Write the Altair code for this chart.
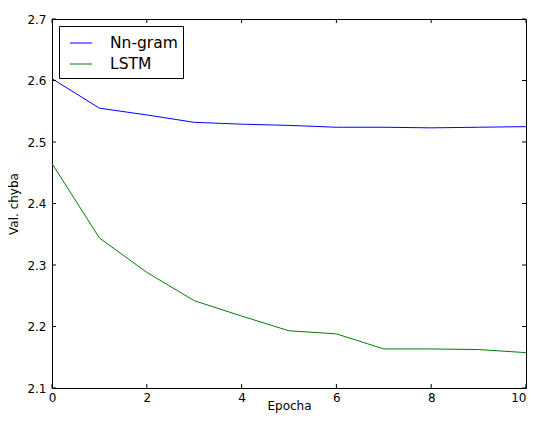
import altair as alt
import pandas as pd

epochs = list(range(11))
ngram = [2.603, 2.555, 2.544, 2.532, 2.529, 2.527, 2.524, 2.524, 2.523, 2.524, 2.525]
lstm = [2.465, 2.344, 2.288, 2.242, 2.217, 2.193, 2.188, 2.1635, 2.1635, 2.1625, 2.1575]
series = ["Nn-gram", "LSTM"]
colors = ["#0000ff", "#008000"]
x_ticks = [0, 2, 4, 6, 8, 10]
y_ticks = [2.1, 2.2, 2.3, 2.4, 2.5, 2.6, 2.7]

W, H = 474, 369
TL = 4

rows = []
for e, a, b in zip(epochs, ngram, lstm):
    rows.append({"epoch": e, "value": a, "series": series[0]})
    rows.append({"epoch": e, "value": b, "series": series[1]})
df = pd.DataFrame(rows)

xs = alt.Scale(domain=[0, 10], nice=False, zero=False)
ys = alt.Scale(domain=[2.1, 2.7], nice=False, zero=False)

lines = alt.Chart(df).mark_line(strokeWidth=1).encode(
    x=alt.X("epoch:Q", scale=xs, title="Epocha",
            axis=alt.Axis(values=x_ticks, format="d", labelPadding=4,
                          labelAlign={"condition": {"test": "datum.value == 10", "value": "right"},
                                      "value": "center"},
                          titleY=24, titleBaseline="bottom")),
    y=alt.Y("value:Q", scale=ys, title="Val. chyba",
            axis=alt.Axis(values=y_ticks, format=".1f", labelPadding=6, titlePadding=6)),
    color=alt.Color("series:N", scale=alt.Scale(domain=series, range=colors),
                    sort=series,
                    legend=alt.Legend(title=None, orient="top-left", offset=7,
                                      symbolType="stroke", symbolSize=500,
                                      symbolStrokeWidth=1, symbolOffset=5,
                                      labelFontSize=15.5,
                                      labelOffset=17, padding=5, rowPadding=-1,
                                      strokeColor="black", fillColor="white",
                                      labelFont="DejaVu Sans", labelColor="black")),
)

xt = pd.DataFrame({"t": x_ticks})
yt = pd.DataFrame({"t": y_ticks})

xb = alt.Chart(xt).mark_rule(color="black", strokeWidth=1).encode(
    x=alt.X("t:Q", scale=xs), y=alt.value(H), y2=alt.value(H - TL))
xtop = alt.Chart(xt).mark_rule(color="black", strokeWidth=1).encode(
    x=alt.X("t:Q", scale=xs), y=alt.value(0), y2=alt.value(TL))
yl = alt.Chart(yt).mark_rule(color="black", strokeWidth=1).encode(
    y=alt.Y("t:Q", scale=ys), x=alt.value(0), x2=alt.value(TL))
yr = alt.Chart(yt).mark_rule(color="black", strokeWidth=1).encode(
    y=alt.Y("t:Q", scale=ys), x=alt.value(W), x2=alt.value(W - TL))

chart = alt.layer(lines, xb, xtop, yl, yr).properties(
    width=W, height=H,
    autosize=alt.AutoSizeParams(type="none"),
    padding={"left": 44, "top": 11, "right": 1, "bottom": 25},
).configure_view(
    stroke="black", strokeWidth=1
).configure_axis(
    domain=False, ticks=False, grid=False,
    labelFont="DejaVu Sans", labelFontSize=12, labelColor="black",
    titleFont="DejaVu Sans", titleFontSize=12, titleColor="black",
    titleFontWeight="normal", labelFlush=False,
)

chart.save("out.html", embed_options={"renderer": "svg", "actions": False})
